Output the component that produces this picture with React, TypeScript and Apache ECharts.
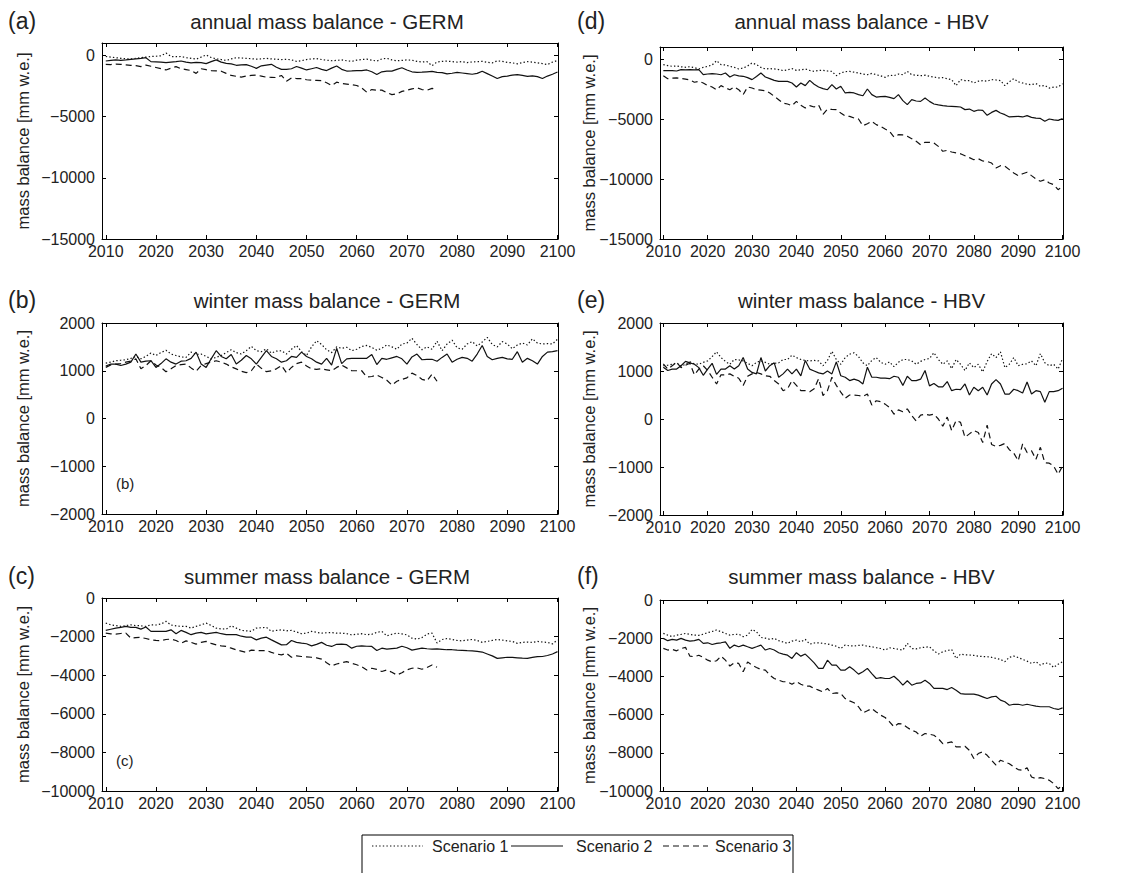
import React, { useEffect, useRef } from "react";
import * as echarts from "echarts";

// ---------- data ----------
const START_YEAR = 2010;
const END_YEAR = 2100;
const X_TICKS = [2010, 2020, 2030, 2040, 2050, 2060, 2070, 2080, 2090, 2100];
const Y_TICKS_ANNUAL = [-15000, -10000, -5000, 0];
const Y_TICKS_WINTER = [-2000, -1000, 0, 1000, 2000];
const Y_TICKS_SUMMER = [-10000, -8000, -6000, -4000, -2000, 0];
const SCENARIOS = ["Scenario 1", "Scenario 2", "Scenario 3"];

// (a) annual GERM
const annualGermS1 = [-100,-150,-200,-250,-280,-300,-250,-200,-150,-100,-80,-50,180,-100,-120,-100,-200,-250,-320,-150,20,-180,-300,-350,-420,-300,-200,-220,-250,-280,-320,-300,-250,-300,-330,-350,-330,-380,-500,-450,-350,-300,-270,-350,-400,-450,-420,-380,-450,-500,-400,-350,-320,-400,-480,-300,-250,-380,-450,-420,-380,-400,-500,-550,-520,-850,-550,-500,-480,-520,-560,-520,-600,-550,-520,-500,-580,-620,-460,-500,-580,-620,-700,-600,-520,-560,-620,-680,-760,-560,-430];
const annualGermS2 = [-470,-420,-380,-420,-380,-330,-300,-260,-200,-520,-540,-560,-600,-560,-520,-470,-560,-620,-580,-600,-680,-520,-380,-560,-660,-700,-820,-780,-760,-900,-1070,-860,-800,-740,-980,-1150,-1150,-1100,-920,-1050,-1200,-1100,-1000,-1150,-1250,-1050,-880,-1150,-1290,-1280,-1250,-1250,-1200,-1350,-1570,-1350,-1300,-1300,-1150,-1020,-1200,-1350,-1400,-1380,-1350,-1320,-1400,-1420,-1520,-1470,-1400,-1450,-1500,-1550,-1480,-1300,-1500,-1700,-1900,-1750,-1700,-1620,-1580,-1650,-1720,-1680,-1750,-1900,-1700,-1550,-1370];
const annualGermS3 = [-740,-760,-720,-740,-780,-830,-850,-930,-800,-900,-1000,-1100,-1200,-1050,-930,-1100,-1170,-1250,-1480,-1100,-1180,-1250,-1270,-1300,-1480,-1650,-1720,-1790,-1700,-1650,-1620,-1700,-1790,-1800,-1820,-1650,-2120,-1850,-1900,-1900,-2000,-2030,-2050,-2070,-2250,-2470,-2200,-2300,-2350,-2400,-2470,-2670,-3020,-2800,-2850,-2850,-3050,-3210,-3150,-2950,-2850,-2750,-2660,-2800,-2850,-2700,-2800];

// (b) winter GERM
const winterGermS1 = [1160,1180,1210,1220,1230,1260,1300,1250,1300,1370,1320,1380,1430,1350,1320,1290,1280,1390,1340,1350,1300,1250,1280,1320,1380,1440,1380,1350,1420,1510,1420,1400,1460,1370,1410,1420,1350,1450,1530,1400,1320,1500,1630,1550,1440,1380,1500,1470,1490,1420,1450,1510,1530,1490,1430,1470,1540,1500,1450,1560,1580,1680,1550,1440,1500,1450,1620,1420,1560,1640,1480,1450,1560,1610,1520,1600,1700,1550,1500,1610,1560,1460,1540,1580,1540,1670,1580,1560,1570,1560,1660];
const winterGermS2 = [1100,1140,1140,1110,1140,1180,1350,1180,1200,1210,1070,1150,1250,1180,1140,1200,1210,1260,1390,1140,1070,1250,1420,1300,1250,1340,1140,1220,1320,1250,1140,1280,1420,1300,1250,1180,1210,1300,1280,1390,1300,1250,1180,1140,1260,1120,1470,1150,1250,1260,1260,1260,1260,1340,1130,1260,1240,1270,1300,1250,1140,1290,1350,1230,1240,1240,1200,1280,1350,1180,1240,1280,1260,1200,1350,1530,1300,1230,1260,1280,1250,1240,1400,1180,1260,1210,1140,1300,1390,1400,1420];
const winterGermS3 = [1070,1120,1140,1150,1180,1200,1250,1040,1110,1210,1120,1070,980,1040,1110,1130,1140,1060,990,1110,1150,1180,1210,1180,1140,1080,1040,990,960,1000,1140,1050,980,1000,1040,1110,960,1070,1150,1180,1100,1040,1030,1040,1020,1000,1070,1120,1060,1000,1000,1000,870,880,910,860,800,700,780,820,850,950,900,820,790,930,780];

// (c) summer GERM
const summerGermS1 = [-1300,-1390,-1430,-1470,-1430,-1390,-1430,-1440,-1470,-1390,-1400,-1350,-1210,-1400,-1440,-1470,-1470,-1560,-1470,-1390,-1300,-1420,-1560,-1600,-1610,-1440,-1560,-1680,-1700,-1730,-1560,-1540,-1520,-1730,-1680,-1650,-1700,-1680,-1760,-1850,-1820,-1730,-1780,-1820,-1800,-1790,-1820,-1820,-1850,-1910,-1880,-1850,-1900,-1880,-1780,-1730,-1960,-1880,-1820,-1860,-1910,-2080,-2130,-2050,-1870,-1820,-2330,-2150,-2100,-2150,-2200,-2220,-2180,-2150,-2200,-2300,-2250,-2200,-2150,-2180,-2220,-2250,-2350,-2300,-2280,-2300,-2250,-2280,-2300,-2380,-2170];
const summerGermS2 = [-1680,-1620,-1560,-1520,-1470,-1520,-1520,-1610,-1500,-1730,-1730,-1730,-1730,-1650,-1850,-1680,-1780,-1900,-1820,-1780,-1860,-1820,-1780,-1850,-1900,-1900,-1900,-1980,-2030,-2030,-2170,-2080,-2030,-2170,-2300,-2430,-2420,-2200,-2300,-2340,-2370,-2480,-2400,-2300,-2450,-2510,-2400,-2390,-2420,-2600,-2500,-2480,-2500,-2510,-2720,-2600,-2650,-2620,-2600,-2500,-2580,-2700,-2650,-2600,-2630,-2650,-2640,-2660,-2680,-2680,-2700,-2710,-2730,-2740,-2770,-2800,-2900,-3000,-3130,-3100,-3070,-3080,-3100,-3120,-3130,-3080,-3040,-3030,-2980,-2900,-2780];
const summerGermS3 = [-1820,-1860,-1870,-1840,-1820,-2080,-2050,-2040,-2100,-2160,-2200,-2210,-2150,-2130,-2200,-2340,-2220,-2300,-2390,-2300,-2250,-2350,-2430,-2480,-2510,-2600,-2690,-2750,-2820,-2700,-2720,-2730,-2720,-2820,-2900,-2950,-2860,-3070,-3000,-3030,-3050,-3070,-3100,-3170,-3350,-3520,-3420,-3350,-3300,-3380,-3460,-3560,-3730,-3640,-3700,-3810,-3730,-3850,-3990,-3870,-3720,-3640,-3620,-3690,-3600,-3470,-3590];

// (d) annual HBV
const annualHbvS1 = [-470,-550,-610,-580,-650,-690,-640,-720,-830,-700,-610,-500,-140,-470,-500,-610,-700,-830,-750,-580,-330,-470,-700,-830,-800,-830,-880,-970,-900,-800,-950,-900,-830,-950,-1030,-950,-950,-1000,-1030,-1390,-1170,-1050,-1030,-1100,-1170,-1250,-1310,-1200,-1310,-1400,-1530,-1350,-1390,-1250,-1310,-1030,-1310,-1350,-1390,-1350,-1440,-1500,-1580,-1550,-1640,-1720,-2220,-1720,-1800,-1800,-2000,-1850,-1800,-1850,-1720,-1750,-1800,-2220,-1900,-1640,-1900,-2000,-2100,-2140,-2050,-2280,-2200,-2420,-2350,-2330,-2060];
const annualHbvS2 = [-970,-970,-970,-1000,-890,-900,-890,-910,-890,-1300,-1250,-1220,-1250,-1310,-1170,-1500,-1310,-1400,-1440,-1550,-1720,-1450,-1170,-1500,-1640,-1780,-1860,-1860,-1860,-2000,-2330,-2000,-2220,-1780,-2100,-2330,-2470,-2560,-2140,-2500,-2270,-2830,-2780,-2830,-2970,-3060,-2500,-2970,-3170,-3140,-3110,-3200,-3300,-2970,-3470,-3800,-3390,-3500,-3530,-3250,-3530,-3750,-3830,-3890,-3920,-3940,-3970,-4000,-4220,-4170,-4360,-4250,-4280,-4690,-4450,-4280,-4500,-4640,-4830,-4800,-4780,-4830,-4720,-4860,-4920,-4950,-5190,-5000,-5080,-5110,-4970];
const annualHbvS3 = [-1390,-1640,-1600,-1580,-1620,-1670,-1750,-1940,-1860,-2000,-2220,-2330,-2560,-2220,-2400,-2560,-2330,-2560,-2970,-2330,-2420,-2560,-2600,-2640,-2830,-3110,-3390,-3670,-3750,-3890,-3530,-3860,-4080,-3890,-4000,-3830,-4610,-4170,-4200,-4220,-4500,-4750,-4780,-4920,-5000,-5560,-5390,-5190,-5470,-5610,-5830,-6030,-6500,-6310,-6330,-6440,-6640,-6860,-7140,-6940,-6940,-7000,-7280,-7690,-7610,-7750,-7830,-7900,-8060,-8220,-8390,-8310,-8500,-8530,-8670,-9080,-8890,-8940,-9220,-9500,-9720,-9560,-9440,-9720,-9990,-10190,-10060,-10330,-10470,-10890,-10610];

// (e) winter HBV
const winterHbvS1 = [1110,1120,1140,1170,1100,1140,1190,1150,1140,1180,1210,1300,1400,1280,1200,1140,1240,1230,1210,1160,1110,1180,1210,1180,1140,1160,1170,1240,1240,1330,1280,1240,1220,1210,1220,1210,1110,1220,1410,1240,1140,1280,1350,1380,1300,1170,1110,1220,1280,1180,1140,1190,1090,1180,1240,1240,1210,1140,1200,1240,1260,1380,1240,1140,1210,1050,1240,1140,1010,1170,1070,1140,980,1200,1360,1280,1400,1070,1140,1280,1110,1140,1150,1210,1110,1360,1170,1110,1140,1040,1260];
const winterHbvS2 = [1080,1010,1040,1040,1110,1200,1170,1140,1070,910,1040,1160,930,1040,1040,1110,1040,1110,1280,1040,970,940,1280,1000,1110,1170,870,940,1040,940,1040,900,1220,1040,1000,960,940,1000,940,1190,900,870,800,830,800,730,1080,870,870,850,850,840,890,870,700,890,800,800,830,1010,690,740,670,670,780,590,620,610,730,500,660,590,660,500,730,820,730,520,520,620,590,540,770,520,590,570,350,570,570,590,640];
const winterHbvS3 = [1150,1040,1110,1180,1070,1120,1160,920,1040,1110,1010,870,730,920,920,940,890,850,700,890,940,970,940,900,890,800,730,590,630,800,700,590,590,570,630,840,490,590,870,700,560,430,500,500,490,470,520,290,380,360,310,240,100,190,150,210,70,-40,80,100,80,100,0,-150,40,-240,-30,-70,-380,-310,-240,-280,-490,-130,-530,-570,-550,-510,-640,-710,-870,-520,-700,-660,-840,-590,-910,-920,-980,-1150,-980];

// (f) summer HBV
const summerHbvS1 = [-1750,-1840,-1920,-1840,-1800,-1750,-1800,-1840,-1850,-1790,-1710,-1650,-1570,-1660,-1750,-1840,-1800,-1790,-1920,-1840,-1540,-1660,-1960,-2000,-2060,-2010,-2130,-2200,-2270,-2150,-2100,-2190,-2060,-2310,-2250,-2240,-2270,-2300,-2360,-2420,-2540,-2360,-2400,-2410,-2380,-2360,-2420,-2450,-2500,-2540,-2620,-2500,-2540,-2580,-2620,-2270,-2540,-2560,-2500,-2470,-2450,-2660,-2830,-2710,-2650,-2590,-3060,-2830,-2870,-2880,-2900,-2940,-2960,-2970,-3000,-3060,-3110,-3230,-3000,-2940,-3010,-3110,-3200,-3320,-3230,-3410,-3300,-3320,-3530,-3360,-3230];
const summerHbvS2 = [-2010,-2130,-2060,-2100,-2010,-2100,-2150,-2130,-2060,-2270,-2240,-2330,-2270,-2240,-2190,-2530,-2360,-2450,-2360,-2450,-2530,-2450,-2360,-2620,-2540,-2620,-2760,-2830,-2890,-3060,-2760,-2940,-2830,-3060,-3290,-3580,-3580,-3150,-3410,-3410,-3670,-3670,-3500,-3670,-3880,-3760,-3580,-3850,-4110,-4060,-4110,-4110,-3990,-4200,-4460,-4230,-4460,-4370,-4340,-4200,-4370,-4630,-4630,-4630,-4690,-4580,-4720,-4900,-4930,-4930,-4930,-4980,-5070,-5160,-5070,-5040,-5240,-5330,-5510,-5460,-5460,-5510,-5460,-5510,-5560,-5590,-5590,-5590,-5680,-5730,-5650];
const summerHbvS3 = [-2530,-2620,-2590,-2660,-2540,-2480,-2940,-2970,-2890,-3010,-3150,-3240,-3180,-2940,-3150,-3460,-3290,-3320,-3760,-3240,-3410,-3530,-3640,-3670,-3930,-4110,-4200,-4280,-4280,-4410,-4280,-4410,-4510,-4510,-4630,-4720,-4810,-4630,-4900,-4860,-4900,-5160,-5280,-5380,-5590,-5910,-5800,-5680,-5860,-6030,-6150,-6380,-6640,-6470,-6500,-6680,-6820,-6910,-7130,-6990,-7030,-7080,-7260,-7520,-7480,-7430,-7690,-7690,-7660,-7870,-8300,-8040,-7950,-8130,-8390,-8650,-8390,-8480,-8570,-8740,-8880,-8920,-8780,-9270,-9350,-9300,-9350,-9440,-9610,-9880,-9700];

// ---------- layout / styles ----------
const FONT = '"Liberation Sans", Arial, Helvetica, sans-serif';
const INK = "#111";
const TEXT = "#222";

const PANELS = [
  { title: "annual mass balance - GERM", letter: "(a)", inner: "", grid: { left: 102, top: 43, width: 456, height: 196 }, yMin: -15000, yMax: 1000, yTicks: Y_TICKS_ANNUAL, data: [annualGermS1, annualGermS2, annualGermS3], titleY: 21 },
  { title: "winter mass balance - GERM", letter: "(b)", inner: "(b)", grid: { left: 102, top: 323, width: 456, height: 191 }, yMin: -2000, yMax: 2000, yTicks: Y_TICKS_WINTER, data: [winterGermS1, winterGermS2, winterGermS3], titleY: 300 },
  { title: "summer mass balance - GERM", letter: "(c)", inner: "(c)", grid: { left: 102, top: 598, width: 456, height: 193 }, yMin: -10000, yMax: 0, yTicks: Y_TICKS_SUMMER, data: [summerGermS1, summerGermS2, summerGermS3], titleY: 576 },
  { title: "annual mass balance - HBV", letter: "(d)", inner: "", grid: { left: 660, top: 47, width: 403, height: 192 }, yMin: -15000, yMax: 1000, yTicks: Y_TICKS_ANNUAL, data: [annualHbvS1, annualHbvS2, annualHbvS3], titleY: 21 },
  { title: "winter mass balance - HBV", letter: "(e)", inner: "", grid: { left: 660, top: 323, width: 403, height: 192 }, yMin: -2000, yMax: 2000, yTicks: Y_TICKS_WINTER, data: [winterHbvS1, winterHbvS2, winterHbvS3], titleY: 300 },
  { title: "summer mass balance - HBV", letter: "(f)", inner: "", grid: { left: 660, top: 600, width: 403, height: 191 }, yMin: -10000, yMax: 0, yTicks: Y_TICKS_SUMMER, data: [summerHbvS1, summerHbvS2, summerHbvS3], titleY: 576 },
];

const LINE_TYPES: any[] = [[1.4, 2.2], "solid", [6, 4]];
const LINE_DASH: any[] = [[1.4, 2.2], null, [6, 4]];

// legend layout (drawn with graphic elements)
const LEGEND_BOX = { x: 362, y: 835, width: 431, height: 60 };
const LEGEND_ITEMS = [
  { x1: 372, x2: 423, tx: 432 },
  { x1: 511, x2: 563, tx: 576 },
  { x1: 663, x2: 708, tx: 715 },
];
const LEGEND_Y = 846;

function fmtY(v: number) {
  return v < 0 ? "\u2212" + Math.abs(v) : String(v);
}
function fmtX(v: number) {
  return String(Math.round(v));
}

function buildOption() {
  const years: number[] = [];
  for (let y = START_YEAR; y <= END_YEAR; y++) years.push(y);

  const grid: any[] = [];
  const xAxis: any[] = [];
  const yAxis: any[] = [];
  const series: any[] = [];
  const graphic: any[] = [];

  PANELS.forEach((p, i) => {
    grid.push({ ...p.grid, containLabel: false });
    const axisLine = { show: true, onZero: false, lineStyle: { color: "#000", width: 1 } };
    const xCommon = {
      type: "value", gridIndex: i, min: 2009.25, max: 2100.1,
      splitLine: { show: false }, axisLine,
      axisTick: { show: true, inside: true, length: 4, customValues: X_TICKS, lineStyle: { color: "#000" } },
    };
    xAxis.push({ ...xCommon, position: "bottom",
      axisLabel: { show: true, customValues: X_TICKS, margin: 4, color: TEXT, fontSize: 16, fontFamily: FONT, formatter: fmtX } });
    xAxis.push({ ...xCommon, position: "top", axisLabel: { show: false } });
    const yCommon = {
      type: "value", gridIndex: i, min: p.yMin, max: p.yMax,
      splitLine: { show: false }, axisLine,
      axisTick: { show: true, inside: true, length: 4, customValues: p.yTicks, lineStyle: { color: "#000" } },
    };
    yAxis.push({ ...yCommon, position: "left",
      axisLabel: { show: true, customValues: p.yTicks, margin: 7, color: TEXT, fontSize: 16, fontFamily: FONT, formatter: fmtY } });
    yAxis.push({ ...yCommon, position: "right", axisLabel: { show: false } });

    p.data.forEach((vals, k) => {
      series.push({
        name: SCENARIOS[k], type: "line", xAxisIndex: 2 * i, yAxisIndex: 2 * i,
        symbol: "none", showSymbol: false, silent: true,
        lineStyle: { color: INK, width: 1.2, type: LINE_TYPES[k] },
        itemStyle: { color: INK },
        data: vals.map((v, j) => [years[j], v]),
      });
    });

    const g = p.grid;
    const cx = g.left + g.width / 2;
    const cy = g.top + g.height / 2;
    const isLeft = g.left < 300;
    graphic.push({ type: "text", x: cx - (isLeft ? 3 : 0), y: p.titleY, style: { text: p.title, fill: TEXT, font: `20.5px ${FONT}`, align: "center", verticalAlign: "middle" } });
    graphic.push({ type: "text", x: isLeft ? 8 : 577, y: p.titleY, style: { text: p.letter, fill: TEXT, font: `23px ${FONT}`, align: "left", verticalAlign: "middle" } });
    graphic.push({ type: "text", x: isLeft ? 23 : 589, y: cy, rotation: Math.PI / 2, style: { text: "mass balance [mm w.e.]", fill: TEXT, font: `16.5px ${FONT}`, align: "center", verticalAlign: "middle" } });
    if (p.inner) {
      graphic.push({ type: "text", x: g.left + 14, y: g.top + g.height - 31, style: { text: p.inner, fill: TEXT, font: `15px ${FONT}`, align: "left", verticalAlign: "middle" } });
    }
  });

  // legend
  graphic.push({ type: "rect", shape: { ...LEGEND_BOX }, style: { fill: "#fff", stroke: "#000", lineWidth: 1 }, z: 10 });
  LEGEND_ITEMS.forEach((it, k) => {
    graphic.push({ type: "line", shape: { x1: it.x1, y1: LEGEND_Y, x2: it.x2, y2: LEGEND_Y }, style: { stroke: INK, lineWidth: 1.2, lineDash: LINE_DASH[k] }, z: 11 });
    graphic.push({ type: "text", x: it.tx, y: LEGEND_Y, style: { text: SCENARIOS[k], fill: TEXT, font: `16px ${FONT}`, align: "left", verticalAlign: "middle" }, z: 11 });
  });

  return {
    animation: false,
    backgroundColor: "#fff",
    textStyle: { fontFamily: FONT },
    grid, xAxis, yAxis, series, graphic,
  };
}

export default function App() {
  const ref = useRef<HTMLDivElement>(null);
  useEffect(() => {
    document.body.style.margin = "0";
    if (!ref.current) return;
    const chart = echarts.init(ref.current, null, { renderer: "svg" });
    chart.setOption(buildOption() as any);
    return () => chart.dispose();
  }, []);
  return <div ref={ref} style={{ width: 1147, height: 873 }} />;
}
